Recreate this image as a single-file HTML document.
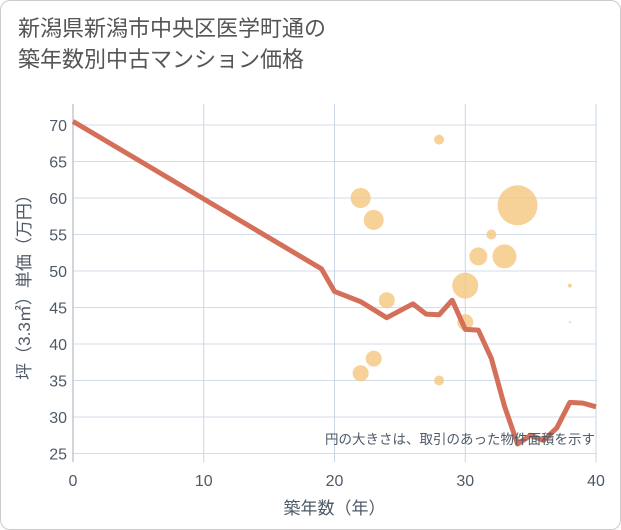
<!DOCTYPE html>
<html><head><meta charset="utf-8">
<style>
body{margin:0;background:#fff;font-family:"Liberation Sans","Noto Sans CJK JP",sans-serif;}
#wrap{position:relative;width:619px;height:528px;border:1px solid #ccc;border-radius:10px;overflow:hidden;background:#fff;}
#title{position:absolute;left:17px;top:12px;font-size:22px;line-height:31px;color:#555;}
</style></head><body>
<div id="wrap">
<div id="title">新潟県新潟市中央区医学町通の<br>築年数別中古マンション価格</div>
<svg id="chart" width="621" height="530" style="position:absolute;left:-1px;top:-1px"></svg>
</div>
<script>
const xTicks=[0,10,20,30,40];
const yTicks=[25,30,35,40,45,50,55,60,65,70];
const lineX=[0,19,20,22,24,26,27,28,29,30,31,32,33,34,35,36,37,38,39,40];
const lineY=[70.5,50.3,47.2,45.8,43.6,45.5,44.1,44,46,42,41.9,38,31.5,26.3,27.5,26.8,28.5,32,31.9,31.4];
const bubX=[22,23,28,22,23,24,28,30,30,31,32,33,34,38,38];
const bubY=[60,57,68,36,38,46,35,48,43,52,55,52,59,48,43];
const bubR=[10,10,5,8,8,8,5,13,8,9,5,12,20,2,1];
const NS='http://www.w3.org/2000/svg';
const svg=document.getElementById('chart');
const L=73,R=596,T=104,B=462;
const xs=v=>L+(v-0)/40*(R-L);
const ys=v=>125+(70-v)*7.3;
function mk(t,a){const e=document.createElementNS(NS,t);for(const k in a)e.setAttribute(k,a[k]);svg.appendChild(e);return e;}
let bg=mk('rect',{x:L,y:T,width:R-L,height:B-T,fill:'#fff'});


yTicks.forEach(v=>{
 let g=mk('line',{x1:L,x2:R,y1:ys(v),y2:ys(v),stroke:'#d3dde9','stroke-width':1});
 
 
 let t=mk('text',{x:L-6,y:ys(v)+6,'text-anchor':'end','font-size':16,fill:'#4e5a68'});
 t.textContent=v;
 
 
});
xTicks.forEach(v=>{
 let g=mk('line',{x1:xs(v),x2:xs(v),y1:T,y2:B,stroke:'#c9d6e6','stroke-width':1});
 
 
 let t=mk('text',{x:xs(v),y:B+24,'text-anchor':'middle','font-size':16,fill:'#4e5a68'});
 t.textContent=v;
 
 
});
let ax=mk('line',{x1:L,x2:L,y1:T,y2:B,stroke:'#aab','stroke-width':1});


bubX.forEach((x,i)=>{
 let c=mk('circle',{cx:xs(x),cy:ys(bubY[i]),r:bubR[i],fill:'#f5c77e','fill-opacity':0.8});
 
 
});
let p=mk('polyline',{points:lineX.map((x,i)=>xs(x)+','+ys(lineY[i])).join(' '),fill:'none',stroke:'#d4705a','stroke-width':5,'stroke-linejoin':'round'});


let n=mk('text',{x:595,y:444,'text-anchor':'end','font-size':13.5,fill:'#4e5a68'});
n.textContent='円の大きさは、取引のあった物件面積を示す';


let xt=mk('text',{x:(L+R)/2,y:514,'text-anchor':'middle','font-size':17,fill:'#4e5a68'});
xt.textContent='築年数（年）';


let yt=mk('text',{x:0,y:0,'text-anchor':'middle','font-size':17,fill:'#4e5a68',transform:'translate(30,'+((T+B)/2)+') rotate(-90)'});
yt.textContent='坪（3.3㎡）単価（万円）';


</script>
</body></html>
